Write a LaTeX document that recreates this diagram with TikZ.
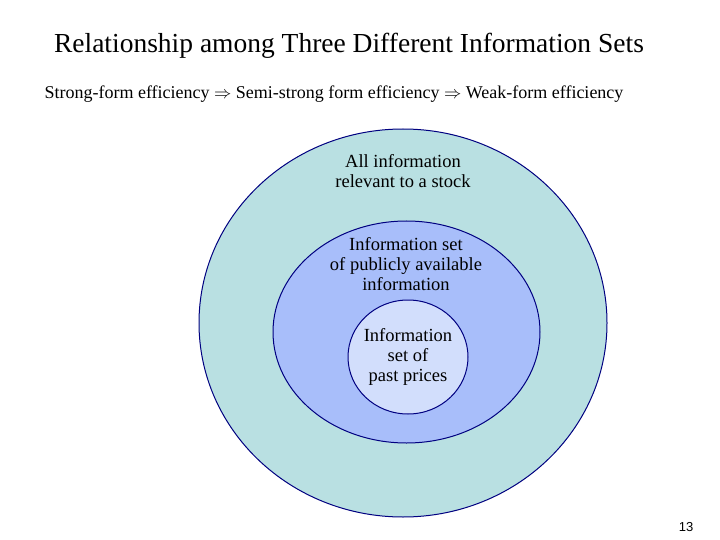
\documentclass[tikz,border=0pt]{standalone}
\usepackage{fontspec}
\setmainfont{Liberation Serif}
\newfontfamily\arialf{Liberation Sans}
\usepackage{amssymb}
\begin{document}
\begin{tikzpicture}[x=1pt,y=-1pt,
  ring/.style={draw=blue!50!black, line width=1pt},
  lbl/.style={align=center, font=\fontsize{18.5}{20}\selectfont, inner sep=0pt}]
\useasboundingbox (0,0) rectangle (720,540);
\fill[white] (0,0) rectangle (720,540);
\node (title) at (349,46) {\fontsize{27.5}{30}\selectfont Relationship among Three Different Information Sets};
\node (sub) at (334,94) {\fontsize{18}{20}\selectfont Strong-form efficiency $\Rightarrow$ Semi-strong form efficiency $\Rightarrow$ Weak-form efficiency};
\draw[ring, fill={rgb,255:red,185;green,224;blue,226}] (403,323) ellipse [x radius=204, y radius=194];
\draw[ring, fill={rgb,255:red,168;green,190;blue,250}] (406.5,332) ellipse [x radius=133.5, y radius=111];
\draw[ring, fill={rgb,255:red,210;green,222;blue,252}] (408,357) ellipse [x radius=60, y radius=57];
\node[lbl] (a) at (403,171) {All information\\relevant to a stock};
\node[lbl] (b) at (406,264) {Information set\\of publicly available\\information};
\node[lbl] (c) at (408,357) {Information\\set of\\past prices};
\node (pg) at (686,527) {\arialf\fontsize{13}{15}\selectfont 13};
\end{tikzpicture}
\end{document}
